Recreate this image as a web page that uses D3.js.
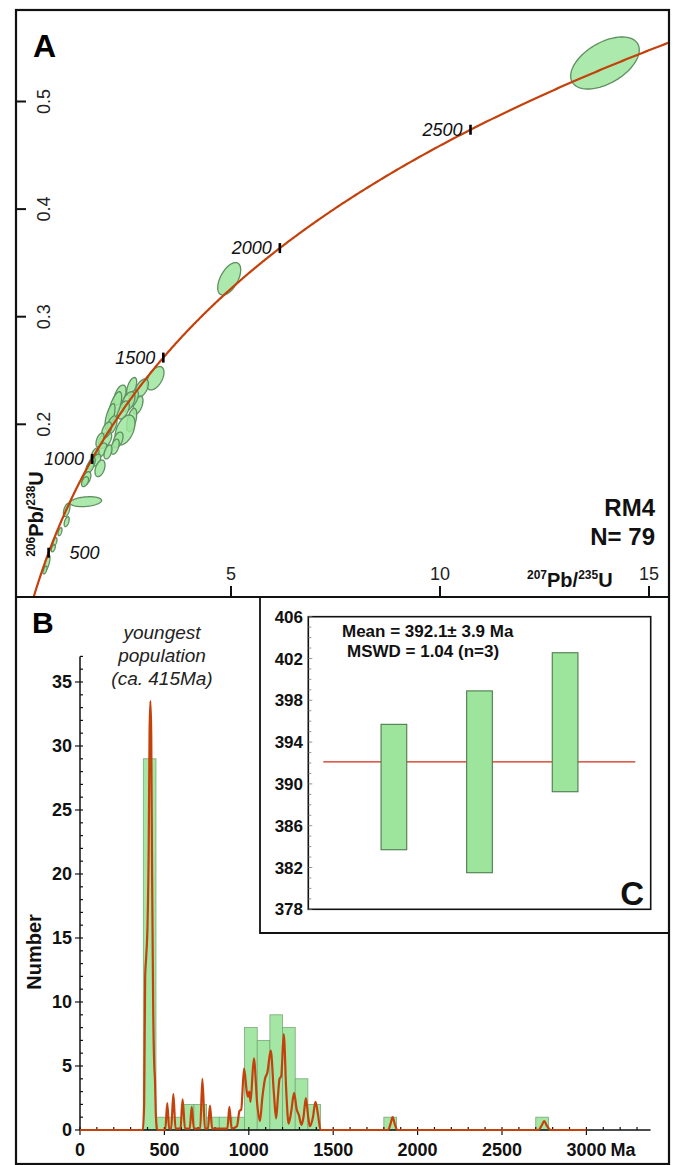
<!DOCTYPE html>
<html><head><meta charset="utf-8">
<script src="https://cdn.jsdelivr.net/npm/d3@7"></script>
<style>body{margin:0;background:#fff}svg{display:block}text{font-family:"Liberation Sans",Arial,sans-serif}</style>
</head><body><svg id="c" width="676" height="1165"></svg>
<script>
// ---------------- DATA ----------------
// Panel A : concordia diagram
const concordiaTickAges = [500, 1000, 1500, 2000, 2500];
const axisAXTicks = [5, 10, 15];
const axisAYTicks = [0.2, 0.3, 0.4, 0.5];
// ellipse rows: [207Pb/235U, err x, 206Pb/238U, err y, rho]
const ellipses = [
  [13.947, 0.821, 0.5358, 0.0242, 0.5],
  [4.957, 0.275, 0.3352, 0.0151, 0.55],
  [3.189, 0.208, 0.2428, 0.0109, 0.5],
  [2.864, 0.160, 0.2335, 0.0086, 0.5],
  [2.624, 0.120, 0.2349, 0.0086, 0.55],
  [2.775, 0.120, 0.2179, 0.0084, 0.5],
  [2.663, 0.120, 0.2242, 0.0077, 0.5],
  [2.543, 0.160, 0.2210, 0.0093, 0.5],
  [2.344, 0.144, 0.2272, 0.0093, 0.5],
  [2.423, 0.144, 0.2133, 0.0084, 0.5],
  [2.225, 0.160, 0.2164, 0.0139, 0.65],
  [2.105, 0.120, 0.2071, 0.0121, 0.65],
  [2.153, 0.120, 0.1994, 0.0084, 0.5],
  [2.624, 0.120, 0.2040, 0.0109, 0.5],
  [2.464, 0.239, 0.1947, 0.0139, 0.45],
  [2.297, 0.120, 0.1854, 0.0074, 0.45],
  [2.225, 0.100, 0.1792, 0.0070, 0.45],
  [1.986, 0.160, 0.1854, 0.0077, 0.5],
  [2.026, 0.120, 0.1947, 0.0074, 0.5],
  [1.866, 0.096, 0.1854, 0.0065, 0.5],
  [1.907, 0.120, 0.1761, 0.0065, 0.5],
  [2.057, 0.096, 0.1743, 0.0065, 0.45],
  [1.746, 0.096, 0.1715, 0.0065, 0.5],
  [1.787, 0.096, 0.1668, 0.0056, 0.45],
  [1.667, 0.084, 0.1638, 0.0056, 0.5],
  [1.866, 0.120, 0.1591, 0.0077, 0.4],
  [1.627, 0.096, 0.1606, 0.0056, 0.5],
  [1.548, 0.100, 0.1498, 0.0062, 0.45],
  [1.507, 0.084, 0.1467, 0.0046, 0.45],
  [1.526, 0.378, 0.1281, 0.0046, 0.25],
  [1.069, 0.079, 0.1204, 0.0062, 0.5],
  [1.069, 0.060, 0.1095, 0.0046, 0.5],
  [0.909, 0.048, 0.1002, 0.0037, 0.5],
  [0.789, 0.048, 0.0909, 0.0037, 0.5],
  [0.749, 0.048, 0.0848, 0.0033, 0.5],
  [0.598, 0.072, 0.0711, 0.0074, 0.65],
  [0.550, 0.048, 0.0646, 0.0037, 0.55]
];
// Panel B : histogram + probability curve
const binStarts = [375, 450, 525, 600, 675, 750, 825, 900, 975, 1050, 1125, 1200, 1275, 1350, 1800, 2700];
const binCounts = [29, 1, 1, 2, 2, 1, 1, 1, 8, 7, 9, 8, 4, 2, 1, 1];
const binWidth = 75;
const kdeAges = [0, 372, 380, 386, 392, 400, 407, 412, 417, 422, 427, 434, 440, 444, 450, 458,
  505, 517, 528, 540, 553, 566, 595, 608, 622, 650, 662, 675, 712, 725, 740, 758, 770, 783,
  873, 885, 898, 930, 945, 955, 972, 988, 996, 1003, 1010, 1030, 1050, 1066, 1080, 1096, 1110,
  1130, 1148, 1162, 1172, 1182, 1192, 1207, 1222, 1236, 1252, 1268, 1284, 1296, 1312, 1324,
  1338, 1352, 1362, 1380, 1395, 1410, 1425, 1825, 1840, 1852, 1864, 1880, 2715, 2735, 2750, 2765, 2790, 3000];
const kdeValues = [0, 0, 2, 12, 13.5, 16, 22, 31, 33.5, 31, 20, 9, 5, 4, 1, 0,
  0, 2.1, 0.1, 0.1, 2.8, 0.1, 0.1, 2.4, 0.1, 0.1, 1.8, 0.1, 0.1, 4.0, 0.1, 0.1, 1.9, 0.1,
  0.1, 1.8, 0.1, 0.3, 1.5, 1.6, 4.8, 3.0, 2.6, 3.0, 2.2, 5.6, 2.0, 0.7, 2.5, 4.0, 4.5,
  6.2, 3.0, 0.9, 2.5, 4.0, 4.2, 7.5, 3.0, 0.5, 1.5, 2.9, 1.6, 1.2, 0.4, 1.0,
  2.5, 1.0, 0.3, 1.0, 2.2, 1.2, 0, 0, 0.5, 1.0, 0.5, 0, 0, 0.35, 0.7, 0.35, 0, 0];
const histXTicks = [0, 500, 1000, 1500, 2000, 2500, 3000];
const histYTicks = [0, 5, 10, 15, 20, 25, 30, 35];
// Panel C : weighted mean
const wmAges = [389.7, 390.2, 395.9];
const wmErr = [6.0, 8.7, 6.65];
const wmMean = 392.1;
const wmYTicks = [378, 382, 386, 390, 394, 398, 402, 406];

// ---------------- DRAW ----------------
const svg = d3.select("#c");
const RED = "#c4410c", GREEN = "#9de59d", GSTROKE = "#5f8f5f";

// frames
svg.append("rect").attr("x", 16).attr("y", 10).attr("width", 653).attr("height", 1154)
  .attr("fill", "none").attr("stroke", "#111").attr("stroke-width", 2.2);
svg.append("line").attr("x1", 16).attr("x2", 669).attr("y1", 597).attr("y2", 597)
  .attr("stroke", "#111").attr("stroke-width", 2.2);

// ===== Panel A =====
const xA = d3.scaleLinear().domain([0, 15]).range([22, 649]);
const yA = d3.scaleLinear().domain([0, 0.5]).range([639.5, 101.5]);
const defs = svg.append("defs");
defs.append("clipPath").attr("id", "clipA").append("rect")
  .attr("x", 17).attr("y", 11).attr("width", 651).attr("height", 585);
const gA = svg.append("g").attr("clip-path", "url(#clipA)");

const L238 = 1.55125e-10, L235 = 9.8485e-10;
const conc = t => [Math.exp(L235 * t * 1e6) - 1, Math.exp(L238 * t * 1e6) - 1];
const concPts = d3.range(0, 3001, 5).map(conc);

// ellipses
const ellPath = d3.line().x(d => xA(d[0])).y(d => yA(d[1])).curve(d3.curveLinearClosed);
const thetas = d3.range(0, 2 * Math.PI, Math.PI / 40);
gA.selectAll("path.ell").data(ellipses).join("path").attr("class", "ell")
  .attr("d", e => ellPath(thetas.map(th => [e[0] + e[1] * Math.cos(th),
      e[2] + e[3] * (e[4] * Math.cos(th) + Math.sqrt(1 - e[4] * e[4]) * Math.sin(th))])))
  .attr("fill", GREEN).attr("fill-opacity", 0.85).attr("stroke", GSTROKE).attr("stroke-width", 1.3);

gA.append("path").datum(concPts)
  .attr("d", d3.line().x(d => xA(d[0])).y(d => yA(d[1])))
  .attr("fill", "none").attr("stroke", RED).attr("stroke-width", 2.2);

// concordia age ticks
concordiaTickAges.forEach(t => {
  const p = conc(t), px = xA(p[0]), py = yA(p[1]);
  gA.append("line").attr("x1", px).attr("x2", px).attr("y1", py - 5).attr("y2", py + 5)
    .attr("stroke", "#000").attr("stroke-width", 2.6);
  const right = t === 500;
  gA.append("text").attr("x", right ? px + 21 : px - 8).attr("y", py + 6)
    .attr("text-anchor", right ? "start" : "end")
    .attr("font-style", "italic").attr("font-size", 18).attr("fill", "#111").text(t);
});

// axes A
axisAYTicks.forEach(v => {
  svg.append("line").attr("x1", 16).attr("x2", 26).attr("y1", yA(v)).attr("y2", yA(v))
    .attr("stroke", "#111").attr("stroke-width", 2);
  svg.append("text").attr("transform", `translate(50,${yA(v)}) rotate(-90)`)
    .attr("text-anchor", "middle").attr("font-size", 18).attr("fill", "#222").text(v.toFixed(1));
});
axisAXTicks.forEach(v => {
  svg.append("line").attr("x1", xA(v)).attr("x2", xA(v)).attr("y1", 597).attr("y2", 586)
    .attr("stroke", "#111").attr("stroke-width", 2);
  svg.append("text").attr("x", xA(v)).attr("y", 580).attr("text-anchor", "middle")
    .attr("font-size", 18).attr("fill", "#222").text(v);
});
// axis titles A
function isoTitle(sel, a, b, c, d) {
  sel.append("tspan").attr("font-size", 12).attr("dy", -8).text(a);
  sel.append("tspan").attr("font-size", 20).attr("dy", 8).text(b);
  sel.append("tspan").attr("font-size", 12).attr("dy", -8).text(c);
  sel.append("tspan").attr("font-size", 20).attr("dy", 8).text(d);
}
const xt = svg.append("text").attr("x", 527).attr("y", 587).attr("font-weight", "bold").attr("fill", "#111");
isoTitle(xt, "207", "Pb/", "235", "U");
const yt = svg.append("text").attr("transform", "translate(43,514) rotate(-90)")
  .attr("text-anchor", "middle").attr("font-weight", "bold").attr("fill", "#111");
isoTitle(yt, "206", "Pb/", "238", "U");

svg.append("text").attr("x", 33).attr("y", 57).attr("font-size", 32).attr("font-weight", "bold").text("A");
svg.append("text").attr("x", 655).attr("y", 516).attr("text-anchor", "end").attr("font-size", 24)
  .attr("font-weight", "bold").attr("fill", "#111").text("RM4");
svg.append("text").attr("x", 655).attr("y", 545).attr("text-anchor", "end").attr("font-size", 24)
  .attr("font-weight", "bold").attr("fill", "#111").text("N= 79");

// ===== Panel B =====
const xB = d3.scaleLinear().domain([0, 3000]).range([80, 586.4]);
const yB = d3.scaleLinear().domain([0, 35]).range([1130, 682]);

svg.selectAll("rect.bin").data(binStarts).join("rect").attr("class", "bin")
  .attr("x", d => xB(d)).attr("width", d => xB(d + binWidth) - xB(d))
  .attr("y", (d, i) => yB(binCounts[i])).attr("height", (d, i) => yB(0) - yB(binCounts[i]))
  .attr("fill", "#a4e6a4").attr("stroke", "#7aa87a").attr("stroke-width", 0.8);

// axes B
svg.append("line").attr("x1", xB(0)).attr("x2", xB(0)).attr("y1", yB(0)).attr("y2", yB(37))
  .attr("stroke", "#111").attr("stroke-width", 1.5);
d3.range(0, 38).forEach(v => {
  const major = v % 5 === 0;
  svg.append("line").attr("x1", major ? 75 : 80).attr("x2", 83).attr("y1", yB(v)).attr("y2", yB(v))
    .attr("stroke", "#111").attr("stroke-width", 1.2);
});
histYTicks.forEach(v => {
  svg.append("text").attr("x", 72).attr("y", yB(v) + 6).attr("text-anchor", "end")
    .attr("font-size", 18).attr("font-weight", "bold").attr("fill", "#111").text(v);
});
svg.append("line").attr("x1", xB(0)).attr("x2", xB(3380)).attr("y1", yB(0)).attr("y2", yB(0))
  .attr("stroke", "#111").attr("stroke-width", 1.6);
d3.range(0, 3400, 100).forEach(v => {
  const major = v % 500 === 0;
  svg.append("line").attr("x1", xB(v)).attr("x2", xB(v))
    .attr("y1", major ? yB(0) + 5 : yB(0)).attr("y2", yB(0) - 3)
    .attr("stroke", "#111").attr("stroke-width", 1.2);
});
histXTicks.forEach(v => {
  svg.append("text").attr("x", xB(v)).attr("y", 1156).attr("text-anchor", "middle")
    .attr("font-size", 18).attr("font-weight", "bold").attr("fill", "#111").text(v);
});
svg.append("text").attr("x", xB(3000) + 24).attr("y", 1156)
  .attr("font-size", 18).attr("font-weight", "bold").attr("fill", "#111").text("Ma");

// KDE
svg.append("path").datum(kdeAges.map((a, i) => [a, kdeValues[i]]))
  .attr("d", d3.line().x(d => xB(d[0])).y(d => yB(d[1])).curve(d3.curveMonotoneX))
  .attr("fill", "none").attr("stroke", RED).attr("stroke-width", 2.2).attr("stroke-linejoin", "round");

svg.append("text").attr("transform", "translate(41,952) rotate(-90)").attr("text-anchor", "middle")
  .attr("font-size", 20).attr("font-weight", "bold").attr("fill", "#111").text("Number");
svg.append("text").attr("x", 32).attr("y", 633).attr("font-size", 30).attr("font-weight", "bold").text("B");
["youngest", "population", "(ca. 415Ma)"].forEach((s, i) => {
  svg.append("text").attr("x", 162).attr("y", 639 + i * 23).attr("text-anchor", "middle")
    .attr("font-size", 19).attr("font-style", "italic").attr("fill", "#222").text(s);
});

// ===== Panel C =====
svg.append("path").attr("d", "M260,597 L260,933 L669,933").attr("fill", "none")
  .attr("stroke", "#111").attr("stroke-width", 1.8);
const xC = d3.scaleLinear().domain([0, 4]).range([308.3, 650.7]);
const yC = d3.scaleLinear().domain([378, 406]).range([909.3, 616.7]);
svg.append("rect").attr("x", xC(0)).attr("y", yC(406)).attr("width", xC(4) - xC(0))
  .attr("height", yC(378) - yC(406)).attr("fill", "#fff").attr("stroke", "#111").attr("stroke-width", 1.6);
d3.range(378, 407).forEach(v => {
  svg.append("line").attr("x1", xC(0)).attr("x2", xC(0) + (v % 4 === 2 ? 4 : 3))
    .attr("y1", yC(v)).attr("y2", yC(v)).attr("stroke", "#777").attr("stroke-width", 0.8);
});
wmYTicks.forEach(v => {
  svg.append("text").attr("x", 303).attr("y", yC(v) + 6).attr("text-anchor", "end")
    .attr("font-size", 17).attr("font-weight", "bold").attr("fill", "#111").text(v);
});
svg.append("line").attr("x1", xC(0.175)).attr("x2", xC(3.82)).attr("y1", yC(wmMean)).attr("y2", yC(wmMean))
  .attr("stroke", "#d42a10").attr("stroke-width", 1.3);
svg.selectAll("rect.wm").data(wmAges).join("rect").attr("class", "wm")
  .attr("x", (d, i) => xC(i + 1 - 0.15)).attr("width", xC(0.3) - xC(0))
  .attr("y", (d, i) => yC(d + wmErr[i])).attr("height", (d, i) => yC(d - wmErr[i]) - yC(d + wmErr[i]))
  .attr("fill", GREEN).attr("stroke", "#4d7a4d").attr("stroke-width", 1.1);
svg.append("text").attr("x", 342).attr("y", 637).attr("font-size", 17).attr("font-weight", "bold")
  .attr("fill", "#111").text("Mean = " + wmMean.toFixed(1) + "\u00b1 3.9 Ma");
svg.append("text").attr("x", 347).attr("y", 657).attr("font-size", 17).attr("font-weight", "bold")
  .attr("fill", "#111").text("MSWD = 1.04 (n=3)");
svg.append("text").attr("x", 644).attr("y", 905).attr("text-anchor", "end").attr("font-size", 33)
  .attr("font-weight", "bold").attr("fill", "#111").text("C");
</script></body></html>
